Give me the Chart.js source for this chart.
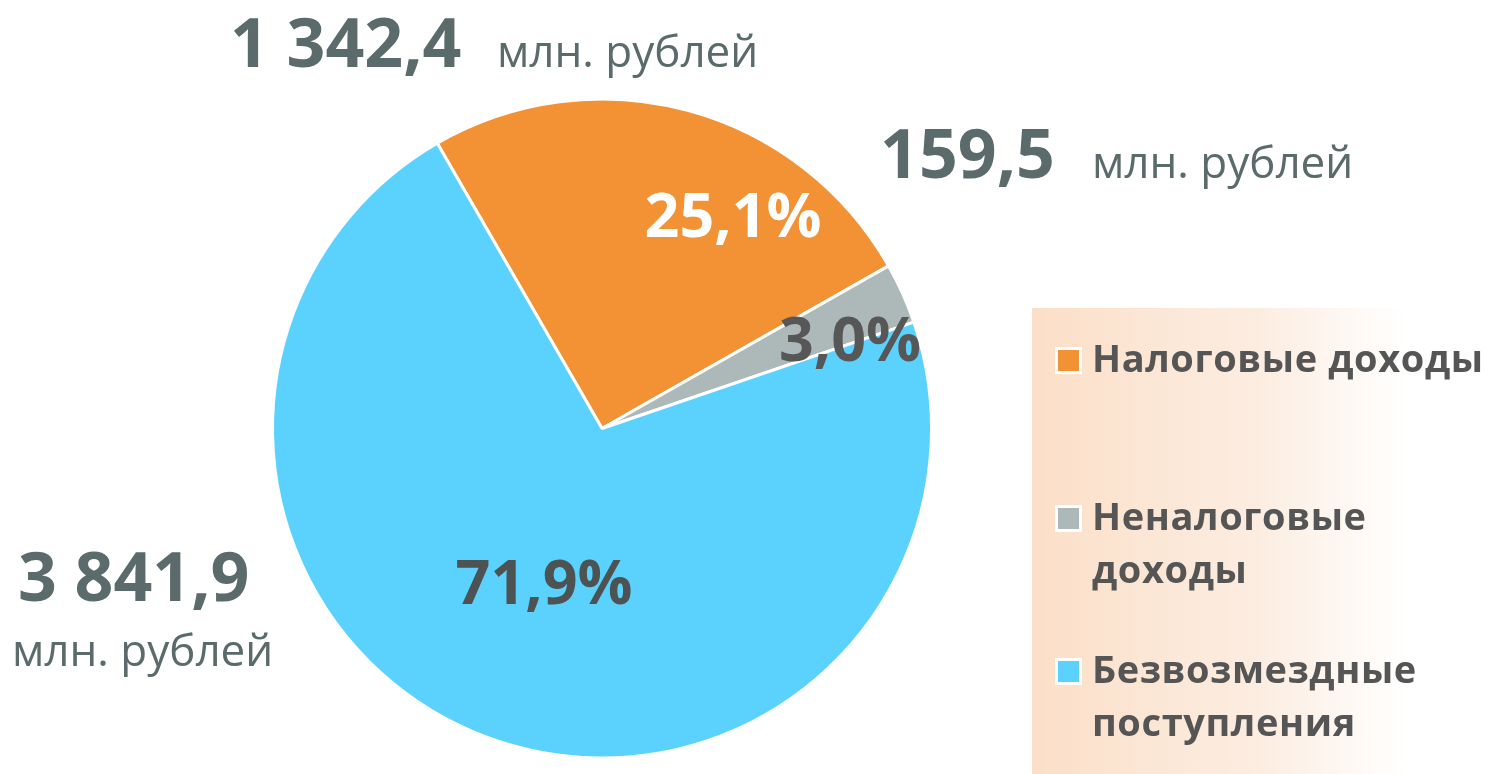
<!DOCTYPE html>
<html lang="ru">
<head>
    <meta charset="UTF-8">
    <title>Доходы бюджета</title>
    <script src="https://cdn.jsdelivr.net/npm/chart.js"></script>
    <style>
        html, body {
            margin: 0;
            padding: 0;
            background: #fff;
            overflow: hidden;
        }
        #wrap {
            position: relative;
            width: 1488px;
            height: 774px;
        }
        #panel {
            position: absolute;
            left: 1032px;
            top: 308px;
            width: 456px;
            height: 466px;
            background: linear-gradient(to right, #fbdfc8 0%, #fcede1 50%, #ffffff 82%);
        }
        canvas {
            position: absolute;
            left: 0;
            top: 0;
        }
    </style>
</head>
<body>
<div id="wrap">
    <div id="panel"></div>
    <canvas id="pie" width="1488" height="774"></canvas>
</div>
<script>
    // данные
    const labels = ['Налоговые доходы', 'Неналоговые доходы', 'Безвозмездные поступления'];
    const legendLines = [['Налоговые доходы'], ['Неналоговые', 'доходы'], ['Безвозмездные', 'поступления']];
    const values = [1342.4, 159.5, 3841.9];
    const amounts = ['1 342,4', '159,5', '3 841,9'];
    const shares = ['25,1%', '3,0%', '71,9%'];
    const colors = ['#f39234', '#adb9b9', '#5bd2fe'];

    const FONT = '"Open Sans", "DejaVu Sans", sans-serif';

    const labelsPlugin = {
        id: 'labelsPlugin',
        afterDraw(chart) {
            const ctx = chart.ctx;
            const arc = chart.getDatasetMeta(0).data[0];
            const cx = arc.x, cy = arc.y;
            ctx.save();
            ctx.textBaseline = 'alphabetic';

            // проценты внутри круга
            const pctPos = [[131, -192, '#ffffff'], [248, -68, '#575757'], [-58, 175, '#4d5252']];
            ctx.font = 'bold 61px ' + FONT;
            ctx.textAlign = 'center';
            shares.forEach((s, i) => {
                ctx.fillStyle = pctPos[i][2];
                ctx.fillText(s, cx + pctPos[i][0], cy + pctPos[i][1]);
            });

            // суммы
            const numColor = '#5b6a6a';
            ctx.textAlign = 'left';
            function amount(text, x, y, unitX, unitY) {
                ctx.font = 'bold 68px ' + FONT;
                ctx.fillStyle = numColor;
                ctx.fillText(text, x, y);
                ctx.font = '44px ' + FONT;
                ctx.fillText('млн. рублей', unitX, unitY);
            }
            amount(amounts[0], 230, 67, 497, 67);
            amount(amounts[1], 880, 178, 1092, 178);
            amount(amounts[2], 18, 601, 12, 666);

            // легенда
            const rows = [372, 530, 683];
            legendLines.forEach((lines, i) => {
                const y = rows[i];
                ctx.fillStyle = '#ffffff';
                ctx.fillRect(1055, y - 25, 27, 27);
                ctx.fillStyle = colors[i];
                ctx.fillRect(1058, y - 22, 21, 21);
                ctx.font = 'bold 38px ' + FONT;
                ctx.letterSpacing = '0.6px';
                ctx.fillStyle = '#555555';
                lines.forEach((t, j) => ctx.fillText(t, 1092, y + j * 53));
                ctx.letterSpacing = '0px';
            });
            ctx.restore();
        }
    };

    new Chart(document.getElementById('pie'), {
        type: 'pie',
        data: {
            labels: labels,
            datasets: [{
                data: values,
                backgroundColor: colors,
                borderColor: '#ffffff',
                borderWidth: 3
            }]
        },
        options: {
            responsive: false,
            animation: false,
            rotation: -30,
            layout: {
                padding: { left: 271, right: 555, top: 97, bottom: 14 }
            },
            plugins: {
                legend: { display: false },
                tooltip: { enabled: false }
            }
        },
        plugins: [labelsPlugin]
    });
</script>
</body>
</html>
